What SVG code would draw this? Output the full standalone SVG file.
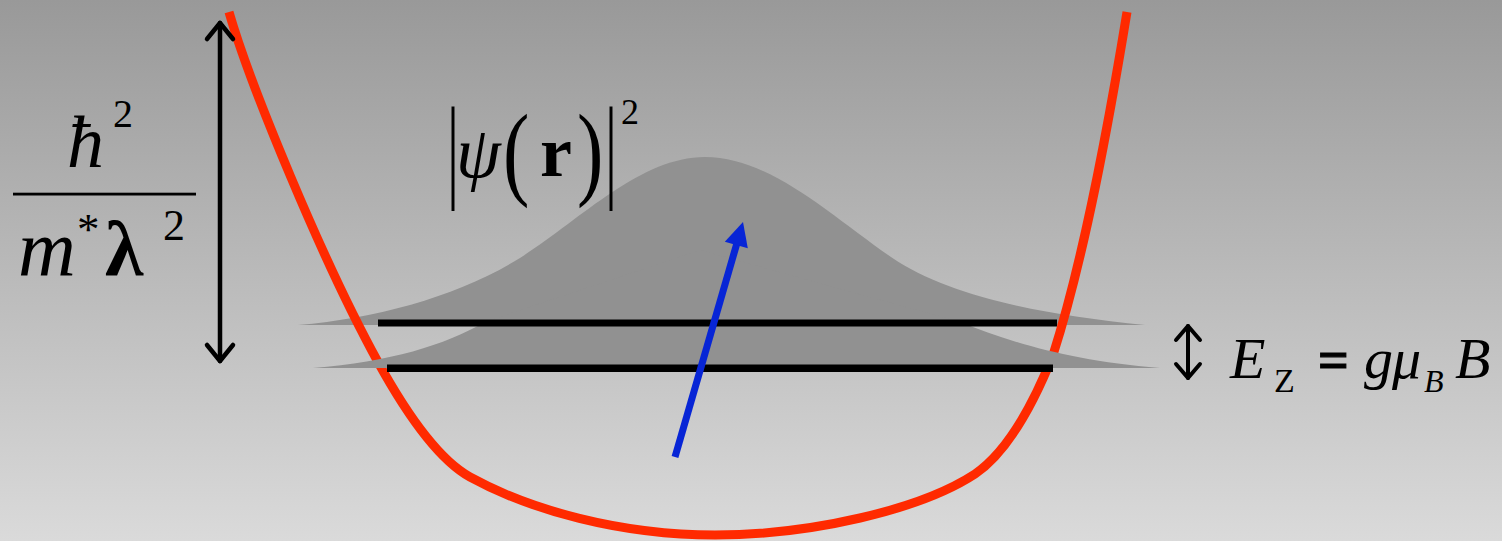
<svg xmlns="http://www.w3.org/2000/svg" width="1502" height="541" viewBox="0 0 1502 541">
<defs>
<linearGradient id="bg" x1="0" y1="0" x2="0" y2="1">
<stop offset="0" stop-color="#999999"/>
<stop offset="1" stop-color="#dadada"/>
</linearGradient>
</defs>
<style>
text{font-family:'Liberation Serif','Times New Roman',serif;fill:#000}
.it{font-style:italic}
.bd{font-weight:bold}
.gauss{fill:#919191}
.level{fill:#000}
.dbl{fill:none;stroke:#000;stroke-linecap:round;stroke-linejoin:round}
</style>
<rect id="background" x="0" y="0" width="1502" height="541" fill="url(#bg)"/>
<g id="upper-density">
<path class="gauss" d="M298,325 C380,318 460,295 520,258 C580,220 640,157 705,157 C770,157 830,215 891,257 C950,297 1040,314 1145,325 Z"/>
</g>
<g id="potential">
<path d="M229,12 C250,85 323,262 378,362 C400,402 434,457 470,477 C530,510 620,535 715,535 C810,535 920,510 975,474 C1010,450 1037,395 1053,355 C1085,255 1109,122 1127,12" fill="none" stroke="#ff2a00" stroke-width="9"/>
</g>
<g id="lower-density">
<path class="gauss" d="M313,368 C390,362 445,345 485,322 L700,250 L960,322 C1010,342 1070,361 1160,368 Z"/>
</g>
<g id="levels">
<rect class="level" x="378" y="319.5" width="679" height="7"/>
<rect class="level" x="387" y="364.5" width="666" height="7.5"/>
</g>
<g id="spin">
<line x1="675" y1="457" x2="737" y2="243" stroke="#0725d6" stroke-width="7"/>
<polygon points="743,222 724.8,241.7 747.8,248.3" fill="#0725d6"/>
</g>
<g id="connectors">
<g id="confinement-arrow" class="dbl" stroke-width="4.5">
<line x1="220" y1="23" x2="220" y2="361"/>
<polyline points="207,39 220,23 233,39"/>
<polyline points="207,345 220,361 233,345"/>
</g>
<g id="zeeman-arrow" class="dbl" stroke-width="4">
<line x1="1188" y1="326" x2="1188" y2="378"/>
<polyline points="1176,340 1188,326 1200,340"/>
<polyline points="1176,364 1188,378 1200,364"/>
</g>
</g>
<g id="confinement-label">
<text class="it" x="67" y="167" font-size="74">ħ</text>
<text x="113" y="127" font-size="40">2</text>
<rect x="13" y="192.7" width="183" height="2.8" fill="#000"/>
<text class="it" x="18" y="275" font-size="80">m</text>
<text x="77" y="244" font-size="45">*</text>
<text class="bd" x="105" y="275" font-size="78">λ</text>
<text x="163" y="240" font-size="44">2</text>
</g>
<g id="density-label">
<text transform="translate(453,187) scale(1,1.9)" font-size="60" text-anchor="middle">|</text>
<text class="it" x="456" y="177" font-size="72">ψ</text>
<text transform="translate(503,186) scale(1.1,1.45)" font-size="72">(</text>
<text class="bd" x="540" y="176" font-size="72">r</text>
<text transform="translate(577,186) scale(1.1,1.45)" font-size="72">)</text>
<text transform="translate(611,187) scale(1,1.9)" font-size="60" text-anchor="middle">|</text>
<text x="621" y="124" font-size="36">2</text>
</g>
<g id="zeeman-label">
<text class="it" x="1230" y="378" font-size="58">E</text>
<text x="1274" y="392" font-size="34">Z</text>
<text class="bd" x="1318" y="378" font-size="54" stroke="#000" stroke-width="1.2">=</text>
<text class="it" x="1364" y="378" font-size="58">g</text>
<text class="it" x="1392" y="378" font-size="58">μ</text>
<text class="it" x="1424" y="392" font-size="32">B</text>
<text class="it" x="1455" y="378" font-size="58">B</text>
</g>
</svg>
